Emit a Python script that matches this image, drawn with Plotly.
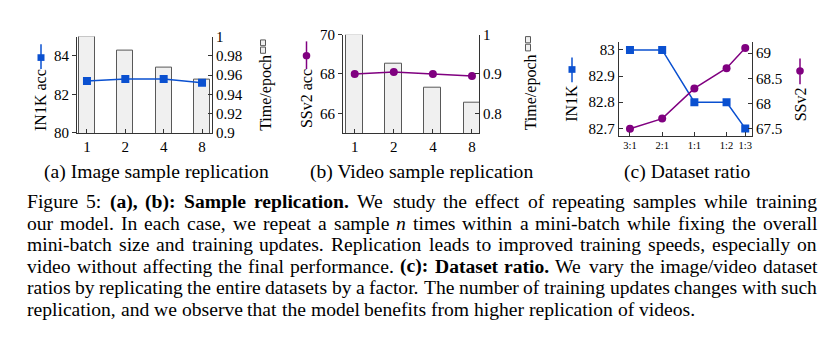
import plotly.graph_objects as go

W, H = 829, 343

# ---------------- data ----------------
reps = ["1", "2", "4", "8"]
img_time = [1.0, 0.985, 0.968, 0.955]
img_acc = [82.7, 82.8, 82.8, 82.6]
vid_time = [1.0, 0.927, 0.865, 0.828]
vid_acc = [68.0, 68.1, 68.0, 67.9]
ratio_labels = ["3:1", "2:1", "1:1", "1:2", "1:3"]
ratio_pos = [0, 1, 2, 3, 3.58]
in1k = [83.0, 83.0, 82.8, 82.8, 82.7]
ssv2 = [67.5, 67.7, 68.3, 68.7, 69.1]

img_acc_ticks = [80, 82, 84]
img_time_ticks = [0.9, 0.92, 0.94, 0.96, 0.98, 1.0]
img_time_ticktext = ["0.9", "0.92", "0.94", "0.96", "0.98", "1"]
vid_acc_ticks = [66, 68, 70]
vid_time_ticks = [0.8, 0.9, 1.0]
vid_time_ticktext = ["0.8", "0.9", "1"]
in1k_ticks = [82.7, 82.8, 82.9, 83.0]
in1k_ticktext = ["82.7", "82.8", "82.9", "83"]
ssv2_ticks = [67.5, 68.0, 68.5, 69.0]
ssv2_ticktext = ["67.5", "68", "68.5", "69"]

# caption lines: list of (style, text) segments; r=regular, b=bold, i=italic
caption_lines = [
    [("r", "Figure 5:"), ("b", "(a), (b): Sample replication."),
     ("r", "We study the effect of repeating samples while training")],
    [("r", "our model. In each case, we repeat a sample"), ("i", "n"),
     ("r", "times within a mini-batch while fixing the overall")],
    [("r", "mini-batch size and training updates. Replication leads to improved training speeds, especially on")],
    [("r", "video without affecting the final performance."), ("b", "(c): Dataset ratio."),
     ("r", "We vary the image/video dataset")],
    [("r", "ratios by replicating the entire datasets by a factor. The number of training updates changes with such")],
    [("r", "replication, and we observe that the model benefits from higher replication of videos.")],
]

# ---------------- style ----------------
FONT = "Liberation Serif"
BLUE = "#0a50d0"
PURPLE = "#800080"
AX = "#333333"
BAR_FILL = "#f0f0f0"
BAR_LINE = "#585858"
CAP_SIZE = 19.6


def px(x):
    return x / W


def py(y):
    return 1 - y / H


fig = go.Figure()

# (a)
fig.add_trace(go.Bar(x=reps, y=img_time, xaxis="x", yaxis="y", width=0.42,
                     marker=dict(color=BAR_FILL, line=dict(color=BAR_LINE, width=1))))
fig.add_trace(go.Scatter(x=reps, y=img_acc, xaxis="x", yaxis="y2", mode="lines+markers",
                         line=dict(color=BLUE, width=1.5),
                         marker=dict(symbol="square", size=8, color=BLUE)))
# (b)
fig.add_trace(go.Bar(x=reps, y=vid_time, xaxis="x2", yaxis="y3", width=0.43,
                     marker=dict(color=BAR_FILL, line=dict(color=BAR_LINE, width=1))))
fig.add_trace(go.Scatter(x=reps, y=vid_acc, xaxis="x2", yaxis="y4", mode="lines+markers",
                         line=dict(color=PURPLE, width=1.5),
                         marker=dict(symbol="circle", size=8, color=PURPLE)))
# (c)
fig.add_trace(go.Scatter(x=ratio_pos, y=in1k, xaxis="x3", yaxis="y5", mode="lines+markers",
                         line=dict(color=BLUE, width=1.5),
                         marker=dict(symbol="square", size=8, color=BLUE)))
fig.add_trace(go.Scatter(x=ratio_pos, y=ssv2, xaxis="x3", yaxis="y6", mode="lines+markers",
                         line=dict(color=PURPLE, width=1.5),
                         marker=dict(symbol="circle", size=8, color=PURPLE)))

tickfont = dict(family=FONT, size=15, color="black")
common = dict(showline=True, linecolor=AX, linewidth=1, showgrid=False, zeroline=False,
              tickcolor=AX, tickfont=tickfont, ticklen=4)

fig.update_layout(
    width=W, height=H, margin=dict(l=0, r=0, t=0, b=0),
    paper_bgcolor="white", plot_bgcolor="rgba(0,0,0,0)",
    showlegend=False, bargap=0,
    font=dict(family=FONT, color="black"),
    xaxis=dict(domain=[px(77), px(212)], anchor="y", type="category",
               range=[-0.26, 3.26], ticks="inside", **common),
    yaxis=dict(domain=[py(131), py(30)], anchor="x", side="right", range=[0.9, 1.0],
               tickvals=img_time_ticks, ticktext=img_time_ticktext, ticks="inside", **common),
    yaxis2=dict(overlaying="y", anchor="x", side="left", range=[80, 85],
                tickvals=img_acc_ticks, ticks="outside", **common),
    xaxis2=dict(domain=[px(343), px(479)], anchor="y3", type="category",
                range=[-0.3, 3.18], ticks="inside", **common),
    yaxis3=dict(domain=[py(131), py(28)], anchor="x2", side="right", range=[0.75, 1.0],
                tickvals=vid_time_ticks, ticktext=vid_time_ticktext, ticks="inside", **common),
    yaxis4=dict(overlaying="y3", anchor="x2", side="left", range=[65, 70],
                tickvals=vid_acc_ticks, ticks="outside", **common),
    xaxis3=dict(domain=[px(618.7), px(752)], anchor="y5", range=[-0.35, 3.79],
                tickvals=ratio_pos, ticktext=ratio_labels, ticks="inside",
                **{**common, "tickfont": dict(family=FONT, size=10.5, color="black")}),
    yaxis5=dict(domain=[py(134), py(35.7)], anchor="x3", side="left", range=[82.672, 83.03],
                tickvals=in1k_ticks, ticktext=in1k_ticktext, ticks="inside", **common),
    yaxis6=dict(overlaying="y5", anchor="x3", side="right", range=[67.36, 69.22],
                tickvals=ssv2_ticks, ticktext=ssv2_ticktext, ticks="inside", **common),
)

ann = []


def label(text, x, y, size, angle=0, xanchor="center", yanchor="middle"):
    ann.append(dict(text=text, x=px(x), y=py(y), xref="paper", yref="paper",
                    showarrow=False, textangle=angle, xanchor=xanchor, yanchor=yanchor,
                    font=dict(family=FONT, size=size, color="black")))


# axis titles
label("IN1K acc", 41, 96.5, 16, -90)
label("Time/epoch", 266, 89, 16, -90)
label("SSv2 acc", 306.5, 95, 16, -90)
label("Time/epoch", 531, 88.5, 16, -90)
label("IN1K", 572, 100.5, 16, -90)
label("SSv2", 800, 101, 16, -90)

# sub-captions
label("(a) Image sample replication", 156, 172, CAP_SIZE)
label("(b) Video sample replication", 421, 172, CAP_SIZE)
label("(c) Dataset ratio", 687, 172, CAP_SIZE)

# ---- justified figure caption, word by word using Times metrics ----
REG = dict(zip(" !\"#$%&'()*+,-./0123456789:;<=>?@", [250, 333, 408, 500, 500, 833, 778, 333, 333, 333, 500, 564, 250, 333, 250, 278] + [500] * 10 + [278, 278, 564, 564, 564, 444, 921]))
REG.update(dict(zip("ABCDEFGHIJKLMNOPQRSTUVWXYZ", [722, 667, 667, 722, 611, 556, 722, 722, 333, 389, 722, 611, 889, 722, 722, 556, 722, 667, 556, 611, 722, 722, 944, 722, 722, 611])))
REG.update(dict(zip("abcdefghijklmnopqrstuvwxyz", [444, 500, 444, 500, 444, 333, 500, 500, 278, 278, 500, 278, 778, 500, 500, 500, 500, 333, 389, 278, 500, 500, 722, 500, 500, 444])))
BOLD = dict(zip("abcdefghijklmnopqrstuvwxyz", [500, 556, 444, 556, 444, 333, 500, 556, 278, 333, 556, 278, 833, 556, 500, 556, 556, 444, 389, 333, 556, 500, 722, 500, 500, 444]))
BOLD.update({"(": 333, ")": 333, ",": 250, ".": 250, ":": 333, " ": 250, "A": 722, "D": 722, "S": 556})
ITAL = {"n": 500}


def wwidth(word, style, size):
    table = {"r": REG, "b": BOLD, "i": ITAL}[style]
    return sum(table.get(ch, REG.get(ch, 500)) for ch in word) * size / 1000.0


LEFT, RIGHT = 27, 817
Y0, DY = 203, 22.6
for li, segs in enumerate(caption_lines):
    words = []
    for style, txt in segs:
        for w in txt.split(" "):
            words.append((w, style))
    widths = [wwidth(w, s, CAP_SIZE) for w, s in words]
    if li < len(caption_lines) - 1:
        gap = (RIGHT - LEFT - sum(widths)) / (len(words) - 1)
    else:
        gap = 250 * CAP_SIZE / 1000.0
    x = LEFT
    yy = Y0 + li * DY
    for (w, s), wd in zip(words, widths):
        txt = {"r": w, "b": "<b>%s</b>" % w, "i": "<i>%s</i>" % w}[s]
        label(txt, x - 2, yy, CAP_SIZE, xanchor="left")
        x += wd + gap

fig.update_layout(annotations=ann)

# legend glyphs next to axis titles
shapes = []


def pline(x0, y0_, x1, y1, color):
    shapes.append(dict(type="line", xref="paper", yref="paper", x0=px(x0), y0=py(y0_),
                       x1=px(x1), y1=py(y1), line=dict(color=color, width=1.5)))


def prect(x0, y0_, x1, y1, fill, line, lw=1):
    shapes.append(dict(type="rect", xref="paper", yref="paper", x0=px(x0), y0=py(y0_),
                       x1=px(x1), y1=py(y1), fillcolor=fill, line=dict(color=line, width=lw)))


def pcircle(cx, cy, r, color):
    shapes.append(dict(type="circle", xref="paper", yref="paper", x0=px(cx - r), y0=py(cy - r),
                       x1=px(cx + r), y1=py(cy + r), fillcolor=color, line=dict(color=color, width=0)))


pline(41, 38, 41, 64, BLUE)
prect(37.5, 48.5, 44.5, 55.5, BLUE, BLUE, 0)
pline(306.5, 35, 306.5, 64, PURPLE)
pcircle(306.5, 50, 3.8, PURPLE)
pline(572, 52, 572, 78, BLUE)
prect(568.5, 61, 575.5, 68, BLUE, BLUE, 0)
pline(800, 53, 800, 80, PURPLE)
pcircle(800, 66, 3.8, PURPLE)
# bar glyphs
prect(260.5, 33.5, 265.5, 39.5, BAR_FILL, BAR_LINE)
prect(260.5, 41, 265.5, 47.5, BAR_FILL, BAR_LINE)
prect(525.5, 30, 530.5, 36.5, BAR_FILL, BAR_LINE)
prect(525.5, 38, 530.5, 45, BAR_FILL, BAR_LINE)

fig.update_layout(shapes=shapes)

fig.write_html("out.html")
